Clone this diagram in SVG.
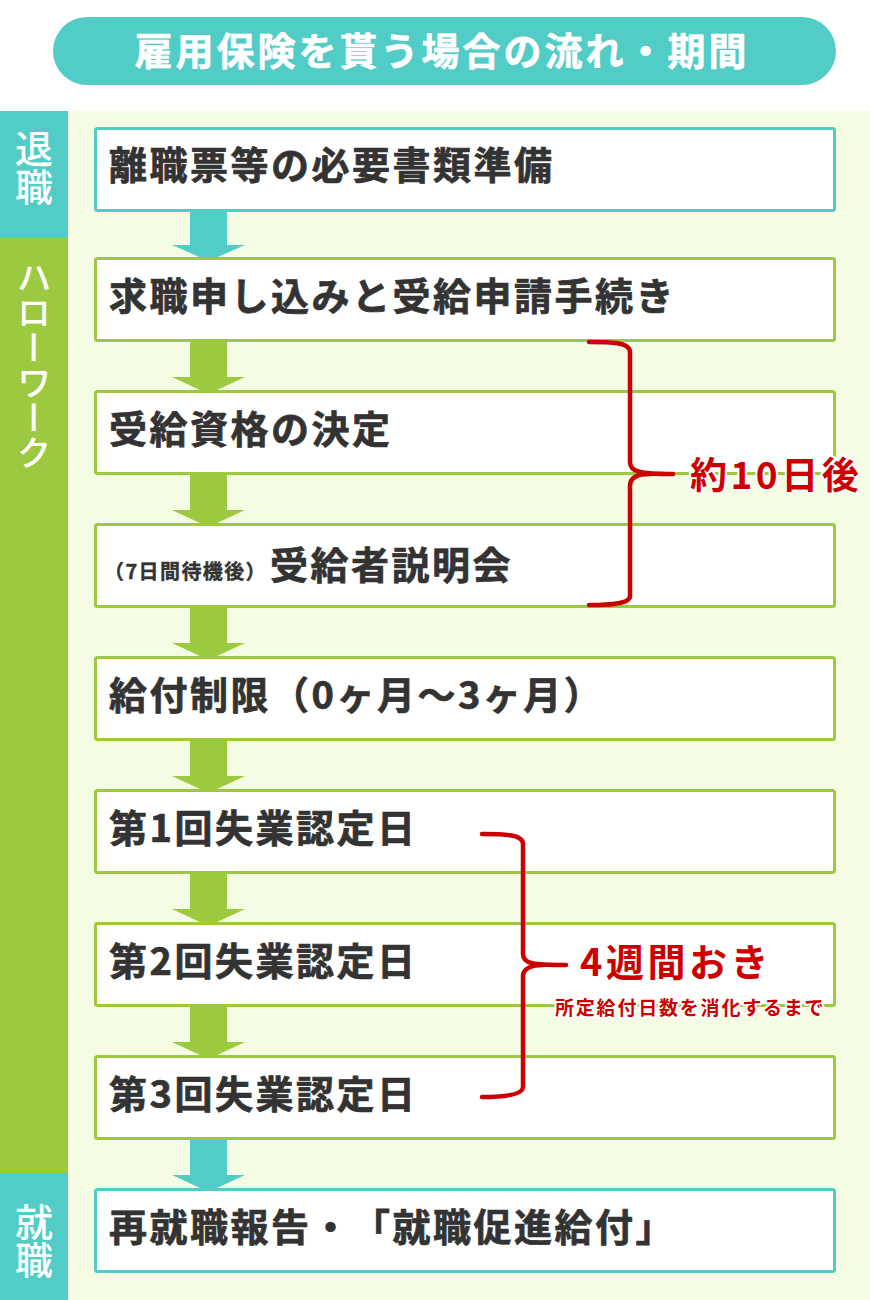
<svg xmlns="http://www.w3.org/2000/svg" width="870" height="1300" viewBox="0 0 870 1300">
<style>
text{text-spacing-trim:space-all}
.box{fill:#fff;stroke-width:3}
.bt{stroke:#52CCC6}
.bg{stroke:#9DC941}
.lbl{font-family:"Noto Sans CJK JP","Noto Sans",sans-serif;font-weight:bold;font-size:38px;fill:#333;stroke:#333;stroke-width:0.7;letter-spacing:2.5px}
.side{font-family:"Noto Sans CJK JP","Noto Sans",sans-serif;fill:#fff;writing-mode:vertical-rl;font-weight:500}
.red{font-family:"Noto Sans CJK JP","Noto Sans",sans-serif;font-weight:bold;fill:#CC0000;stroke:#fff;stroke-width:4;paint-order:stroke;stroke-linejoin:round}
.brace{fill:none;stroke:#CC0000;stroke-width:4.5;stroke-linecap:round;stroke-linejoin:round}
.at{fill:#52CCC6}
.ag{fill:#9DC941}
</style>
<rect x="0" y="0" width="870" height="1300" fill="#fff"/>
<rect x="0" y="111" width="870" height="1189" fill="#F4FCE3"/>
<g id="title">
<rect x="53" y="17" width="783" height="68" rx="34" fill="#52CCC6"/>
<text x="442" y="65" text-anchor="middle" font-family="'Noto Sans CJK JP','Noto Sans',sans-serif" font-weight="bold" font-size="38" fill="#fff" stroke="#fff" stroke-width="0.6" letter-spacing="3">雇用保険を貰う場合の流れ・期間</text>
</g>
<g id="sidebar">
<rect x="0" y="111" width="68" height="127" fill="#52CCC6"/>
<rect x="0" y="238" width="68" height="935" fill="#9DC941"/>
<rect x="0" y="1173" width="68" height="127" fill="#52CCC6"/>
<text class="side" x="34" y="130" font-size="38">退職</text>
<text class="side" x="34" y="260" font-size="35">ハローワーク</text>
<text class="side" x="34" y="1203" font-size="38">就職</text>
</g>
<g id="connectors">
<path class="at" d="M190,211 H227 V245 H245 L208.5,261 L172,245 H190 Z"/>
<path class="ag" d="M190,341 H227 V377 H245 L208.5,394 L172,377 H190 Z"/>
<path class="ag" d="M190,474 H227 V510 H245 L208.5,527 L172,510 H190 Z"/>
<path class="ag" d="M190,607 H227 V643 H245 L208.5,660 L172,643 H190 Z"/>
<path class="ag" d="M190,740 H227 V776 H245 L208.5,793 L172,776 H190 Z"/>
<path class="ag" d="M190,873 H227 V909 H245 L208.5,926 L172,909 H190 Z"/>
<path class="ag" d="M190,1006 H227 V1042 H245 L208.5,1059 L172,1042 H190 Z"/>
<path class="at" d="M190,1139 H227 V1175 H245 L208.5,1192 L172,1175 H190 Z"/>
</g>
<g id="n1"><rect class="box bt" x="95.5" y="128.5" width="739" height="82" rx="2"/><text class="lbl" x="109" y="179">離職票等の必要書類準備</text></g>
<g id="n2"><rect class="box bg" x="95.5" y="258.5" width="739" height="82" rx="2"/><text class="lbl" x="109" y="310">求職申し込みと受給申請手続き</text></g>
<g id="n3"><rect class="box bg" x="95.5" y="391.5" width="739" height="82" rx="2"/><text class="lbl" x="109" y="443">受給資格の決定</text></g>
<g id="n4"><rect class="box bg" x="95.5" y="524.5" width="739" height="82" rx="2"/><text class="lbl" x="104" y="579"><tspan font-size="20" letter-spacing="1.4" stroke-width="0.4">（7日間待機後）</tspan><tspan x="270">受給者説明会</tspan></text></g>
<g id="n5"><rect class="box bg" x="95.5" y="657.5" width="739" height="82" rx="2"/><text class="lbl" x="109" y="709" letter-spacing="3">給付制限（0ヶ月～3ヶ月）</text></g>
<g id="n6"><rect class="box bg" x="95.5" y="790.5" width="739" height="82" rx="2"/><text class="lbl" x="109" y="842">第1回失業認定日</text></g>
<g id="n7"><rect class="box bg" x="95.5" y="923.5" width="739" height="82" rx="2"/><text class="lbl" x="109" y="975">第2回失業認定日</text></g>
<g id="n8"><rect class="box bg" x="95.5" y="1056.5" width="739" height="82" rx="2"/><text class="lbl" x="109" y="1108">第3回失業認定日</text></g>
<g id="n9"><rect class="box bt" x="95.5" y="1189.5" width="739" height="82" rx="2"/><text class="lbl" x="109" y="1241">再就職報告・「就職促進給付」</text></g>
<g id="brace1">
<path class="brace" d="M589,342 C610,342 630,342 630,352 V462 C630,472 640,474 673,474 M630,486 C630,476 640,474 650,474 M630,486 V596 C630,604 610,605 589,605"/>
<text class="red" x="690" y="489" font-size="37" letter-spacing="3.5">約10日後</text>
</g>
<g id="brace2">
<path class="brace" d="M482,834 C503,834 523,834 523,844 V954 C523,964 533,965 566,965 M523,976 C523,968 533,965 543,965 M523,976 V1087 C523,1095 503,1097 482,1097"/>
<text class="red" x="580" y="976" font-size="38" letter-spacing="3.5">4週間おき</text>
<text class="red" x="555" y="1015" font-size="19" letter-spacing="1.8">所定給付日数を消化するまで</text>
</g>
</svg>
